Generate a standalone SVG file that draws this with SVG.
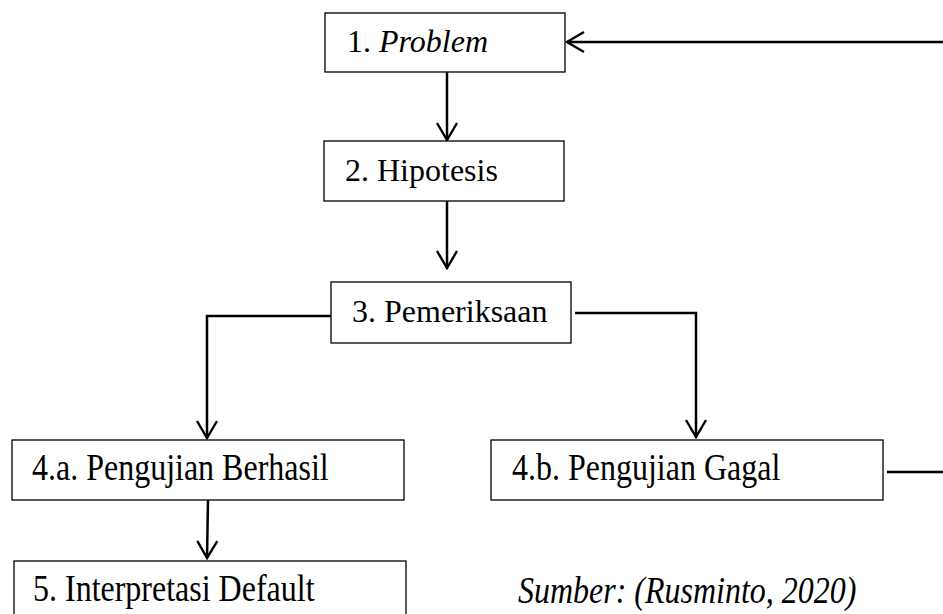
<svg xmlns="http://www.w3.org/2000/svg" width="943" height="614" viewBox="0 0 943 614">
<defs>
<style>
.box{fill:#fff;stroke:#000;stroke-width:1.3}
.t{font-family:'Liberation Serif','Times New Roman',serif;font-size:32px;fill:#000}
.i{font-style:italic}
.c{fill:none;stroke:#000;stroke-width:2.5}
</style>
<marker id="ah" viewBox="0 0 20 24" refX="18" refY="12" markerWidth="20" markerHeight="24" markerUnits="userSpaceOnUse" orient="auto">
<path d="M1,2 L18,12 L1,22" fill="none" stroke="#000" stroke-width="2.4"/>
</marker>
</defs>
<rect width="943" height="614" fill="#fff"/>
<g id="connectors">
<path class="c" d="M943,42 H567" marker-end="url(#ah)"/>
<path class="c" d="M447,72 V140" marker-end="url(#ah)"/>
<path class="c" d="M447,199 V268" marker-end="url(#ah)"/>
<path class="c" d="M331,316 H207 V438" marker-end="url(#ah)"/>
<path class="c" d="M575,313 H696 V437" marker-end="url(#ah)"/>
<path class="c" d="M208,500 L207,558" marker-end="url(#ah)"/>
<path class="c" d="M887,472 H943"/>
</g>
<g id="n1"><rect class="box" x="325" y="13" width="240" height="59"/><text class="t" x="347" y="52">1. <tspan class="i">Problem</tspan></text></g>
<g id="n2"><rect class="box" x="324" y="141" width="240" height="60"/><text class="t" x="345" y="181">2. Hipotesis</text></g>
<g id="n3"><rect class="box" x="331" y="282" width="240" height="61"/><text class="t" x="352" y="322">3. Pemeriksaan</text></g>
<g id="n4a"><rect class="box" x="12" y="440" width="392" height="60"/><text class="t" transform="translate(32,480) scale(1,1.2)">4.a. Pengujian Berhasil</text></g>
<g id="n4b"><rect class="box" x="491" y="440" width="392" height="60"/><text class="t" transform="translate(512,480) scale(1,1.2)">4.b. Pengujian Gagal</text></g>
<g id="n5"><rect class="box" x="14" y="561" width="392" height="70"/><text class="t" transform="translate(33,601) scale(1,1.2)">5. Interpretasi Default</text></g>
<text class="t i" transform="translate(518,603) scale(1,1.2)">Sumber: (Rusminto, 2020)</text>
</svg>
